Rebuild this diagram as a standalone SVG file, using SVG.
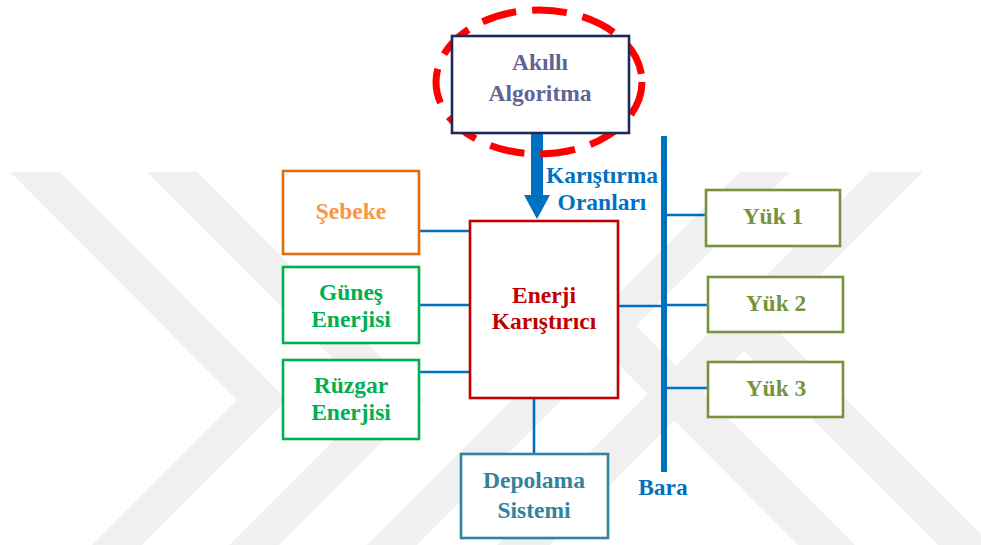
<svg xmlns="http://www.w3.org/2000/svg" width="981" height="545" viewBox="0 0 981 545">
<style>
.t{font-family:"Liberation Serif","Times New Roman",serif;font-weight:bold;font-size:23.5px;text-anchor:middle}
.box{fill:#ffffff;stroke-width:2.6}
.wire{stroke:#0070c0;stroke-width:2.6;fill:none}
.wm{fill:#f0f0f0}
</style>
<rect width="981" height="545" fill="#ffffff"/>
<g id="watermark">
<polygon class="wm" points="10,172 60,172 287,400 142,545 92,545 237,400"/>
<polygon class="wm" points="147,172 197,172 424,400 279,545 229,545 374,400"/>
<polygon class="wm" points="740,172 790,172 417,545 367,545"/>
<polygon class="wm" points="636,326 855,545 798,545 608,354"/>
<polygon class="wm" points="870,172 923,172 550,545 497,545"/>
<polygon class="wm" points="771,324 992,545 938,545 744,351"/>
</g>
<g id="connectors">
<line class="wire" x1="419" y1="231" x2="470" y2="231"/>
<line class="wire" x1="419" y1="305" x2="470" y2="305"/>
<line class="wire" x1="419" y1="372" x2="470" y2="372"/>
<line class="wire" x1="618" y1="306" x2="664" y2="306"/>
<line class="wire" x1="534" y1="398" x2="534" y2="454"/>
<line class="wire" x1="664" y1="215" x2="706" y2="215"/>
<line class="wire" x1="664" y1="305" x2="708" y2="305"/>
<line class="wire" x1="664" y1="388" x2="708" y2="388"/>
<line id="bara-line" x1="664" y1="136" x2="664" y2="472" stroke="#0070c0" stroke-width="6"/>
<polygon id="arrow" points="531,133 543,133 543,195 550,195 537,219 524,195 531,195" fill="#0070c0"/>
</g>
<g id="ring">
<ellipse cx="539" cy="82" rx="103" ry="72" fill="none" stroke="#ff0000" stroke-width="7" stroke-dasharray="35 16"/>
</g>
<g id="akilli-algoritma">
<rect class="box" x="452" y="36" width="177" height="97" stroke="#1c2a5c"/>
<text class="t" x="540" y="70" fill="#5f6497">Akıllı</text>
<text class="t" x="540" y="101" fill="#5f6497">Algoritma</text>
</g>
<g id="karistirma-label">
<text class="t" x="602" y="183" fill="#0070c0">Karıştırma</text>
<text class="t" x="602" y="210" fill="#0070c0">Oranları</text>
</g>
<g id="sebeke">
<rect class="box" x="283" y="171" width="136" height="83" stroke="#e46c0a"/>
<text class="t" x="351" y="219" fill="#f79646">Şebeke</text>
</g>
<g id="gunes">
<rect class="box" x="283" y="267" width="136" height="76" stroke="#00b050"/>
<text class="t" x="351" y="300" fill="#00b050">Güneş</text>
<text class="t" x="351" y="327" fill="#00b050">Enerjisi</text>
</g>
<g id="ruzgar">
<rect class="box" x="283" y="360" width="136" height="79" stroke="#00b050"/>
<text class="t" x="351" y="393" fill="#00b050">Rüzgar</text>
<text class="t" x="351" y="420" fill="#00b050">Enerjisi</text>
</g>
<g id="enerji-karistirici">
<rect class="box" x="470" y="221" width="148" height="177" stroke="#c00000"/>
<text class="t" x="544" y="303" fill="#c00000">Enerji</text>
<text class="t" x="544" y="329" fill="#c00000">Karıştırıcı</text>
</g>
<g id="depolama">
<rect class="box" x="461" y="454" width="147" height="84" stroke="#31849b"/>
<text class="t" x="534" y="488" fill="#31849b">Depolama</text>
<text class="t" x="534" y="518" fill="#31849b">Sistemi</text>
</g>
<g id="bara">
<text class="t" x="663" y="495" fill="#0070c0">Bara</text>
</g>
<g id="yuk1">
<rect class="box" x="706" y="190" width="134" height="56" stroke="#77933c"/>
<text class="t" x="773" y="224" fill="#77933c">Yük 1</text>
</g>
<g id="yuk2">
<rect class="box" x="708" y="277" width="135" height="55" stroke="#77933c"/>
<text class="t" x="776" y="311" fill="#77933c">Yük 2</text>
</g>
<g id="yuk3">
<rect class="box" x="708" y="362" width="135" height="55" stroke="#77933c"/>
<text class="t" x="776" y="396" fill="#77933c">Yük 3</text>
</g>
</svg>
